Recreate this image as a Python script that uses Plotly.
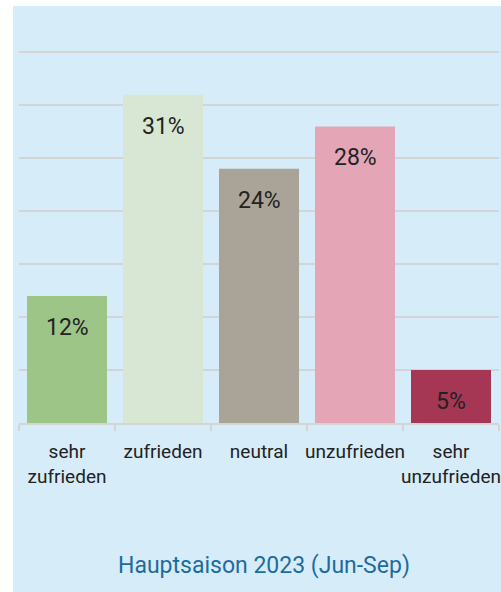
import plotly.graph_objects as go

categories = ["sehr<br>zufrieden", "zufrieden", "neutral", "unzufrieden", "sehr<br>unzufrieden"]
values = [12, 31, 24, 28, 5]
colors = ["#9dc587", "#d7e7d3", "#a9a398", "#e4a6b7", "#a53755"]
title_text = "Hauptsaison 2023 (Jun-Sep)"

W, H = 501, 592
L, R, T, B = 19, 2, 47, 169
pw = W - L - R
ph = H - T - B
BG = "#d7ecf9"

fig = go.Figure(go.Bar(
    x=categories, y=values, marker=dict(color=colors, line=dict(width=0)),
    hoverinfo="skip",
))

for c, v in zip(categories, values):
    fig.add_annotation(x=c, y=v, text=f"{v}%", showarrow=False, yanchor="top",
                       yshift=-16, font=dict(family="Roboto", size=23, color="#222222"))

fig.add_annotation(xref="paper", yref="paper", x=(264 - L) / pw, y=(ph - (565 - T)) / ph,
                   text=title_text, showarrow=False, xanchor="center", yanchor="middle",
                   font=dict(family="Roboto", size=23, color="#1d6c9f"))

# white strips at left and top
fig.add_shape(type="rect", xref="paper", yref="paper", x0=-L / pw, x1=(13 - L) / pw,
              y0=-B / ph, y1=(ph + T) / ph, fillcolor="white", line=dict(width=0), layer="below")
fig.add_shape(type="rect", xref="paper", yref="paper", x0=-L / pw, x1=(pw + R) / pw,
              y0=(ph + T - 6) / ph, y1=(ph + T) / ph, fillcolor="white", line=dict(width=0), layer="below")

fig.update_layout(
    width=W, height=H, margin=dict(l=L, r=R, t=T, b=B, autoexpand=False),
    paper_bgcolor=BG, plot_bgcolor=BG, bargap=1 / 6, showlegend=False,
    font=dict(family="Roboto", color="#222222"),
)
fig.update_xaxes(
    type="category", tickson="boundaries", ticks="outside", ticklen=6, tickcolor="#d4d4d4",
    tickwidth=2, showline=True, linecolor="#d4d4d4", linewidth=2, showgrid=False,
    tickfont=dict(family="Roboto", size=19, color="#222222"), ticklabelstandoff=10,
    tickangle=0, automargin=False,
)
fig.update_yaxes(
    range=[0, 35.5], dtick=5, showticklabels=False, showgrid=True, gridcolor="#d4d4d4",
    gridwidth=2, zeroline=False, showline=False, ticks="", automargin=False,
)

fig.write_html("out.html", config={"displayModeBar": False, "staticPlot": True},
               post_script="document.body.style.margin='0px';document.body.style.overflow='hidden';")
